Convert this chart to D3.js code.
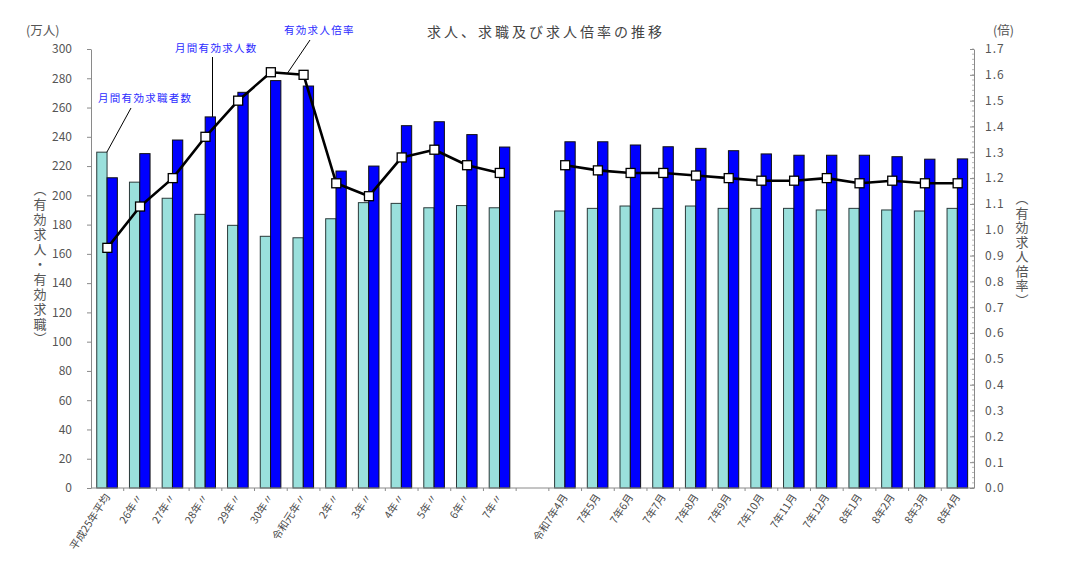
<!DOCTYPE html>
<html><head><meta charset="utf-8">
<script src="https://cdn.jsdelivr.net/npm/d3@7"></script>
<style>body{margin:0;background:#fff} svg{display:block}</style>
</head><body><svg id="c" width="1080" height="566"></svg>
<script>
const categories = ["平成25年平均","26年〃","27年〃","28年〃","29年〃","30年〃","令和元年〃","2年〃","3年〃","4年〃","5年〃","6年〃","7年〃","",
  "令和7年4月","7年5月","7年6月","7年7月","7年8月","7年9月","7年10月","7年11月","7年12月","8年1月","8年2月","8年3月","8年4月"];
// 月間有効求職者数 (万人)
const seekers = [229.5,209,198,187,179.5,172,171,184,195,194.5,191.5,193,191.5,null,
  189.3,191.1,192.7,191.1,192.7,191.1,191.1,191.1,190,191.1,190,189.3,191.1];
// 月間有効求人数 (万人)
const offers = [212,228.5,237.8,253.6,270.4,278.4,274.7,216.6,220,247.6,250.3,241.5,233,null,
  236.6,236.6,234.4,233.2,232.1,230.5,228.3,227.4,227.4,227.4,226.4,224.7,224.9];
// 有効求人倍率 (倍)
const ratios = [0.93,1.09,1.20,1.36,1.50,1.61,1.60,1.18,1.13,1.28,1.31,1.25,1.22,null,
  1.25,1.23,1.22,1.22,1.21,1.20,1.19,1.19,1.20,1.18,1.19,1.18,1.18];
const leftTicks = [0,20,40,60,80,100,120,140,160,180,200,220,240,260,280,300];
const rightTicks = [0,0.1,0.2,0.3,0.4,0.5,0.6,0.7,0.8,0.9,1.0,1.1,1.2,1.3,1.4,1.5,1.6,1.7];
const titleText = "求人、求職及び求人倍率の推移";
const leftUnit = "(万人)", rightUnit = "(倍)";
const leftTitle = "（有効求人・有効求職）", rightTitle = "（有効求人倍率）";
const seriesNames = ["月間有効求職者数","月間有効求人数","有効求人倍率"];

const FONT = "'Noto Sans CJK JP','Noto Sans',sans-serif";
const svg = d3.select("#c").style("font-family", FONT);
const M = {left:91, right:974, top:49, bottom:488};
const x = d3.scaleBand().domain(d3.range(categories.length)).range([M.left, M.right]);
const yL = d3.scaleLinear().domain([0,300]).range([M.bottom, M.top]);
const yR = d3.scaleLinear().domain([0,1.7]).range([M.bottom, M.top]);
const cx = i => x(i) + x.bandwidth()/2;
const bw = 10.3;
const axisColor = "#8a8a8a", textColor = "#555";

// Left axis
const gL = svg.append("g").attr("transform",`translate(${M.left},0)`)
  .call(d3.axisLeft(yL).tickValues(leftTicks).tickSize(4).tickPadding(15).tickSizeOuter(0));
gL.select(".domain").attr("stroke",axisColor);
gL.selectAll(".tick line").attr("stroke",axisColor);
gL.selectAll(".tick text").attr("fill",textColor).style("font-size","12px").style("font-family",FONT);

// Right axis
const minor = d3.range(0, 171, 2).map(d=>d/100);
svg.append("g").selectAll("line").data(minor).join("line")
  .attr("x1",M.right-2).attr("x2",M.right).attr("y1",d=>yR(d)).attr("y2",d=>yR(d))
  .attr("stroke",axisColor).attr("stroke-width",0.6);
const gR = svg.append("g").attr("transform",`translate(${M.right},0)`)
  .call(d3.axisRight(yR).tickValues(rightTicks).tickSize(-4).tickPadding(11).tickSizeOuter(0).tickFormat(d3.format(".1f")));
gR.select(".domain").attr("stroke",axisColor);
gR.selectAll(".tick line").attr("stroke",axisColor);
gR.selectAll(".tick text").attr("fill",textColor).style("font-size","12px").style("font-family",FONT).style("letter-spacing","1px");

// Bars
const idx = d3.range(categories.length).filter(i => seekers[i] != null);
svg.append("g").selectAll("rect").data(idx).join("rect")
  .attr("x", i => cx(i) - bw - 0.3).attr("width", bw)
  .attr("y", i => yL(seekers[i])).attr("height", i => yL(0) - yL(seekers[i]))
  .attr("fill","#9ae0dc").attr("stroke","#2a3a3a").attr("stroke-width",1);
svg.append("g").selectAll("rect").data(idx).join("rect")
  .attr("x", i => cx(i) - 0.3).attr("width", bw)
  .attr("y", i => yL(offers[i])).attr("height", i => yL(0) - yL(offers[i]))
  .attr("fill","#0000ff").attr("stroke","#111").attr("stroke-width",1);

// X axis
svg.append("line").attr("x1",M.left).attr("x2",M.right).attr("y1",M.bottom).attr("y2",M.bottom)
  .attr("stroke",axisColor);
svg.append("g").selectAll("line").data(d3.range(1, categories.length)).join("line")
  .attr("x1",i=>M.left + i*x.step()).attr("x2",i=>M.left + i*x.step())
  .attr("y1",M.bottom).attr("y2",M.bottom+3).attr("stroke",axisColor);
svg.append("g").selectAll("text").data(d3.range(categories.length).filter(i=>categories[i])).join("text")
  .attr("transform", i => `translate(${cx(i)+3},${M.bottom+9}) rotate(-57)`)
  .attr("text-anchor","end").attr("fill","#4a4a4a")
  .style("font-size","10.5px")
  .text(i => categories[i]);

// Ratio line
const line = d3.line().defined(i => ratios[i] != null).x(i => cx(i)).y(i => yR(ratios[i]));
svg.append("path").datum(d3.range(categories.length)).attr("d", line)
  .attr("fill","none").attr("stroke","#000").attr("stroke-width",2.6).attr("stroke-linejoin","round");
svg.append("g").selectAll("rect").data(idx).join("rect")
  .attr("x", i => cx(i)-4.5).attr("y", i => yR(ratios[i])-4.5).attr("width",9).attr("height",9)
  .attr("fill","#fff").attr("stroke","#000").attr("stroke-width",1.3);

// Title and units
svg.append("text").attr("x",546).attr("y",37).attr("text-anchor","middle")
  .attr("fill","#444").style("font-size","14px").style("letter-spacing","3px").text(titleText);
svg.append("text").attr("x",26).attr("y",35).attr("fill",textColor).style("font-size","12.5px").text(leftUnit);
svg.append("text").attr("x",993).attr("y",35).attr("fill",textColor).style("font-size","12.5px").text(rightUnit);
svg.append("text").attr("x",40).attr("y",183).attr("fill",textColor)
  .style("writing-mode","vertical-rl").style("font-size","13px").style("letter-spacing","1.9px").text(leftTitle);
svg.append("text").attr("x",1022).attr("y",192).attr("fill",textColor)
  .style("writing-mode","vertical-rl").style("font-size","13px").style("letter-spacing","1.5px").text(rightTitle);

// Annotations
const ann = svg.append("g").style("font-size","10.5px").attr("fill","#2b2bff");
ann.append("text").attr("x",98).attr("y",102).style("letter-spacing","1.3px").text(seriesNames[0]);
ann.append("text").attr("x",175).attr("y",52).style("letter-spacing","1.3px").text(seriesNames[1]);
ann.append("text").attr("x",284).attr("y",34).style("letter-spacing","1.3px").text(seriesNames[2]);
svg.append("line").attr("x1",131).attr("y1",108).attr("x2",cx(0)-0.5).attr("y2",yL(seekers[0]))
  .attr("stroke","#000").attr("stroke-width",1);
svg.append("line").attr("x1",212.5).attr("y1",57).attr("x2",212.5).attr("y2",yL(offers[3]))
  .attr("stroke","#000").attr("stroke-width",1);
svg.append("line").attr("x1",310).attr("y1",40).attr("x2",(cx(5)+cx(6))/2).attr("y2",(yR(ratios[5])+yR(ratios[6]))/2)
  .attr("stroke","#000").attr("stroke-width",1);
</script></body></html>
